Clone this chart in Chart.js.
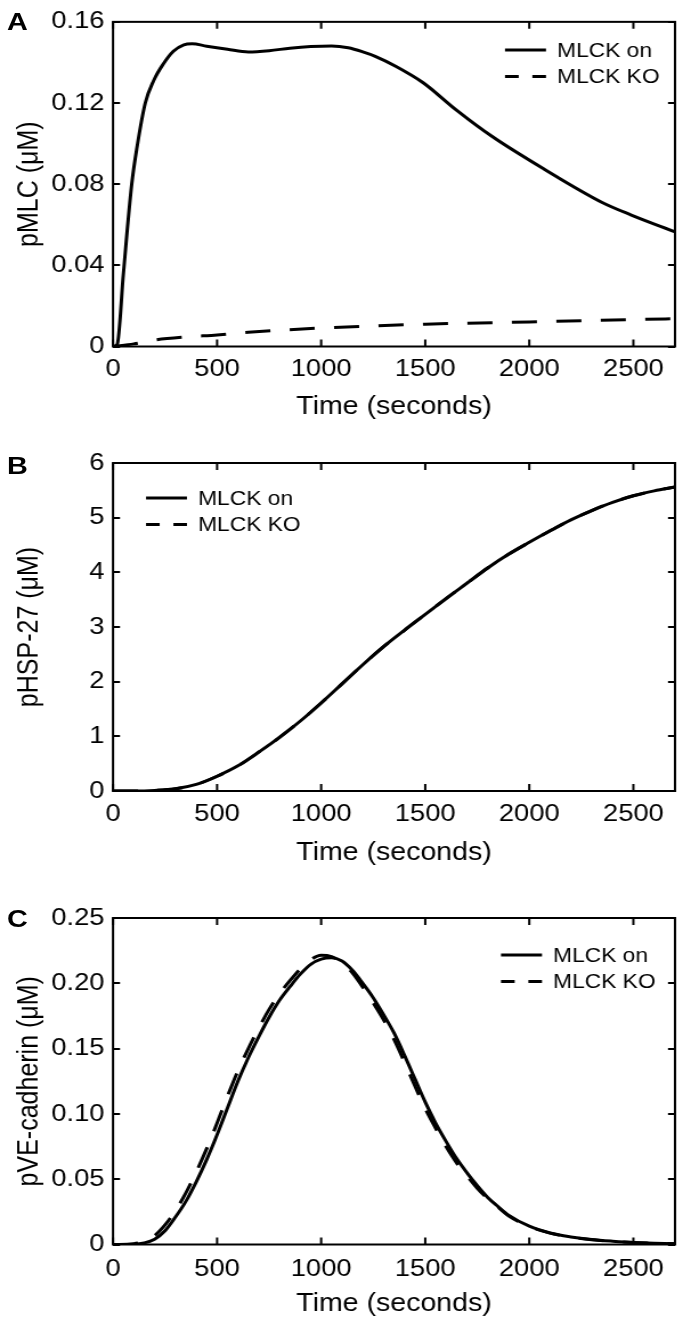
<!DOCTYPE html>
<html>
<head>
<meta charset="utf-8">
<title>MLCK on / KO</title>
<script src="https://cdn.jsdelivr.net/npm/chart.js@4.4.0/dist/chart.umd.min.js"></script>
<style>
  html, body { margin: 0; padding: 0; background: #fff; }
  #wrap { position: relative; width: 683px; height: 1323px; overflow: hidden; }
  #wrap canvas { position: absolute; left: 0; }
  .tag { position: absolute; left: 7px; font: bold 24px "Liberation Sans", Arial, sans-serif; line-height: 24px; color: #000; transform: scaleX(1.2); transform-origin: left top; }
</style>
</head>
<body>
<div id="wrap">
  <canvas id="chartA" width="599" height="430" style="top:0px; width:683px; height:430px"></canvas>
  <canvas id="chartB" width="599" height="440" style="top:430px; width:683px; height:440px"></canvas>
  <canvas id="chartC" width="599" height="453" style="top:870px; width:683px; height:453px"></canvas>
  <div class="tag" style="top:10px">A</div>
  <div class="tag" style="top:454px">B</div>
  <div class="tag" style="top:907px">C</div>
</div>
<script>
// the original figure is a bit wider than tall, so canvases are drawn narrower and stretched by SX
const SX = 683 / 599;

// shared x axis
const xTicks = [0, 500, 1000, 1500, 2000, 2500];
const xLabels = ["0", "500", "1000", "1500", "2000", "2500"];
const xMax = 2700;
const seriesLabels = ["MLCK on", "MLCK KO"];

// A: pMLC
const timeOnA = [0, 20, 50, 90, 115, 155, 195, 240, 290, 340, 380, 450, 550, 650, 750, 850, 950, 1050, 1130, 1200, 1260, 1360, 1490, 1650, 1820, 2070, 2350, 2490, 2700];
const mlcOnA = [0, 0.001, 0.036, 0.08, 0.098, 0.12, 0.131, 0.139, 0.1455, 0.1487, 0.1492, 0.148, 0.1465, 0.1452, 0.1458, 0.147, 0.1478, 0.1481, 0.1472, 0.1452, 0.143, 0.138, 0.13, 0.1165, 0.1036, 0.0875, 0.071, 0.0648, 0.0565];
const timeKoA = [0, 100, 200, 350, 500, 650, 1000, 1500, 2000, 2700];
const mlcKoA = [0, 0.0013, 0.0032, 0.0047, 0.0057, 0.007, 0.0091, 0.011, 0.0121, 0.0137];
const yTicksA = [0, 0.04, 0.08, 0.12, 0.16];
const yLabelsA = ["0", "0.04", "0.08", "0.12", "0.16"];

// B: pHSP-27 (the two runs lie on top of each other)
const timeB = [0, 100, 200, 300, 400, 500, 600, 700, 800, 900, 1000, 1100, 1200, 1300, 1400, 1500, 1600, 1700, 1800, 1900, 2000, 2100, 2200, 2300, 2400, 2500, 2600, 2700];
const hspOnB = [0, 0, 0.01, 0.04, 0.12, 0.27, 0.46, 0.71, 0.98, 1.28, 1.61, 1.96, 2.31, 2.64, 2.94, 3.23, 3.52, 3.8, 4.08, 4.33, 4.55, 4.76, 4.96, 5.13, 5.28, 5.4, 5.49, 5.56];
const hspKoB = [0, 0, 0.01, 0.04, 0.12, 0.27, 0.46, 0.71, 0.98, 1.28, 1.61, 1.96, 2.31, 2.64, 2.94, 3.23, 3.52, 3.8, 4.08, 4.33, 4.55, 4.76, 4.96, 5.13, 5.28, 5.4, 5.49, 5.56];
const yTicksB = [0, 1, 2, 3, 4, 5, 6];
const yLabelsB = ["0", "1", "2", "3", "4", "5", "6"];

// C: pVE-cadherin
const timeC = [0, 100, 150, 200, 250, 300, 350, 400, 450, 500, 550, 600, 650, 700, 750, 800, 850, 900, 950, 1000, 1050, 1100, 1150, 1200, 1250, 1300, 1350, 1400, 1450, 1500, 1550, 1600, 1650, 1700, 1750, 1800, 1850, 1900, 2000, 2100, 2200, 2300, 2400, 2500, 2600, 2700];
const cadOnC = [0, 0.0002, 0.0012, 0.004, 0.0105, 0.021, 0.033, 0.048, 0.065, 0.084, 0.1045, 0.125, 0.143, 0.159, 0.174, 0.187, 0.1974, 0.207, 0.2145, 0.2185, 0.2195, 0.217, 0.210, 0.200, 0.189, 0.176, 0.162, 0.145, 0.127, 0.109, 0.093, 0.079, 0.066, 0.055, 0.045, 0.036, 0.029, 0.0225, 0.014, 0.0088, 0.0058, 0.0038, 0.0025, 0.0015, 0.001, 0.0005];
const cadKoC = [0, 0.0006, 0.0025, 0.0068, 0.015, 0.026, 0.0395, 0.0555, 0.0734, 0.093, 0.1135, 0.133, 0.15, 0.1657, 0.18, 0.192, 0.202, 0.211, 0.218, 0.2215, 0.2205, 0.216, 0.208, 0.197, 0.185, 0.172, 0.157, 0.1396, 0.1216, 0.104, 0.089, 0.075, 0.0627, 0.0526, 0.043, 0.035, 0.0285, 0.022, 0.0138, 0.0087, 0.0057, 0.0037, 0.0025, 0.0015, 0.001, 0.0005];
const yTicksC = [0, 0.05, 0.1, 0.15, 0.2, 0.25];
const yLabelsC = ["0", "0.05", "0.10", "0.15", "0.20", "0.25"];

const FONT = '"Liberation Sans", Arial, sans-serif';
const pts = (xs, ys) => xs.map((x, i) => ({ x: x, y: ys[i] }));

// box round the plot, inward ticks on all four sides, and the little legend
const framePlugin = {
    id: "frame",
    afterDatasetsDraw(chart, args, opts) {
        const { ctx, chartArea: a, scales } = chart;
        const lenV = 7, lenH = 7 / SX;
        ctx.save();
        ctx.strokeStyle = "#000";
        ctx.lineWidth = 2;
        ctx.setLineDash([]);
        ctx.strokeRect(a.left, a.top, a.right - a.left, a.bottom - a.top);
        ctx.beginPath();
        scales.x.ticks.forEach(t => {
            const px = scales.x.getPixelForValue(t.value);
            ctx.moveTo(px, a.bottom); ctx.lineTo(px, a.bottom - lenV);
            ctx.moveTo(px, a.top); ctx.lineTo(px, a.top + lenV);
        });
        scales.y.ticks.forEach(t => {
            const py = Math.round(scales.y.getPixelForValue(t.value));
            ctx.moveTo(a.left, py); ctx.lineTo(a.left + lenH, py);
            ctx.moveTo(a.right, py); ctx.lineTo(a.right - lenH, py);
        });
        ctx.stroke();

        // legend
        ctx.font = opts.fontSize + "px " + FONT;
        ctx.fillStyle = "#000";
        ctx.textBaseline = "middle";
        ctx.textAlign = "left";
        chart.data.datasets.forEach((ds, i) => {
            const y = opts.y + i * opts.gap;
            ctx.beginPath();
            ctx.lineWidth = ds.borderWidth;
            ctx.setLineDash(opts.dashes[i]);
            ctx.moveTo(opts.x, y);
            ctx.lineTo(opts.x + opts.len, y);
            ctx.stroke();
            ctx.fillText(ds.label, opts.x + opts.len + opts.textGap, y + 1);
        });
        ctx.restore();
    }
};

function makeChart(id, p) {
    new Chart(document.getElementById(id), {
        type: "line",
        data: {
            datasets: [
                { label: seriesLabels[0], data: p.on, borderColor: "#000", borderWidth: 3 },
                { label: seriesLabels[1], data: p.ko, borderColor: "#000", borderWidth: 3, borderDash: [22, 17] }
            ]
        },
        options: {
            responsive: false,
            animation: false,
            layout: { padding: { top: p.padTop, right: 8 / SX, left: 0, bottom: 0 } },
            elements: {
                point: { radius: 0 },
                line: { cubicInterpolationMode: "monotone", fill: false }
            },
            plugins: {
                legend: { display: false },
                tooltip: { enabled: false },
                frame: {
                    x: p.legX / SX, y: p.legY, gap: 26.5, len: 41 / SX, textGap: 11 / SX,
                    fontSize: 20, dashes: [[], [12, 12]]
                }
            },
            scales: {
                x: {
                    type: "linear",
                    min: 0,
                    max: xMax,
                    grid: { display: false, drawTicks: false },
                    border: { display: false },
                    afterBuildTicks: s => { s.ticks = xTicks.map(v => ({ value: v })); },
                    afterFit: s => { s.height = p.xHeight; },
                    ticks: {
                        color: "#000", padding: p.xPad, maxRotation: 0, autoSkip: false,
                        font: { family: FONT, size: 24 },
                        callback: (v, i) => xLabels[i]
                    },
                    title: {
                        display: true,
                        text: "Time (seconds)",
                        color: "#000",
                        font: { family: FONT, size: 25 },
                        padding: { top: 0, bottom: p.titlePad }
                    }
                },
                y: {
                    type: "linear",
                    min: p.yTicks[0],
                    max: p.yTicks[p.yTicks.length - 1],
                    grid: { display: false, drawTicks: false },
                    border: { display: false },
                    afterBuildTicks: s => { s.ticks = p.yTicks.map(v => ({ value: v })); },
                    afterFit: s => { s.width = 113 / SX; },
                    ticks: {
                        color: "#000",
                        padding: 8.5 / SX,
                        autoSkip: false,
                        font: { family: FONT, size: 24 },
                        callback: (v, i) => p.yLabels[i]
                    },
                    title: {
                        display: true,
                        text: p.yTitle,
                        color: "#000",
                        font: { family: FONT, size: 25 },
                        padding: { top: 30 / SX - 15, bottom: 0 }
                    }
                }
            }
        },
        plugins: [framePlugin]
    });
}

makeChart("chartA", {
    on: pts(timeOnA, mlcOnA), ko: pts(timeKoA, mlcKoA),
    yTicks: yTicksA, yLabels: yLabelsA, yTitle: "pMLC (\u03bcM)",
    padTop: 17, xHeight: 83.5, xPad: 8, titlePad: 8, legX: 505, legY: 50
});
makeChart("chartB", {
    on: pts(timeB, hspOnB), ko: pts(timeB, hspKoB),
    yTicks: yTicksB, yLabels: yLabelsB, yTitle: "pHSP-27 (\u03bcM)",
    padTop: 33, xHeight: 79, xPad: 9, titlePad: 2, legX: 146, legY: 68
});
makeChart("chartC", {
    on: pts(timeC, cadOnC), ko: pts(timeC, cadKoC),
    yTicks: yTicksC, yLabels: yLabelsC, yTitle: "pVE-cadherin (\u03bcM)",
    padTop: 48, xHeight: 78.5, xPad: 10, titlePad: 4, legX: 501, legY: 85
});
</script>
</body>
</html>
